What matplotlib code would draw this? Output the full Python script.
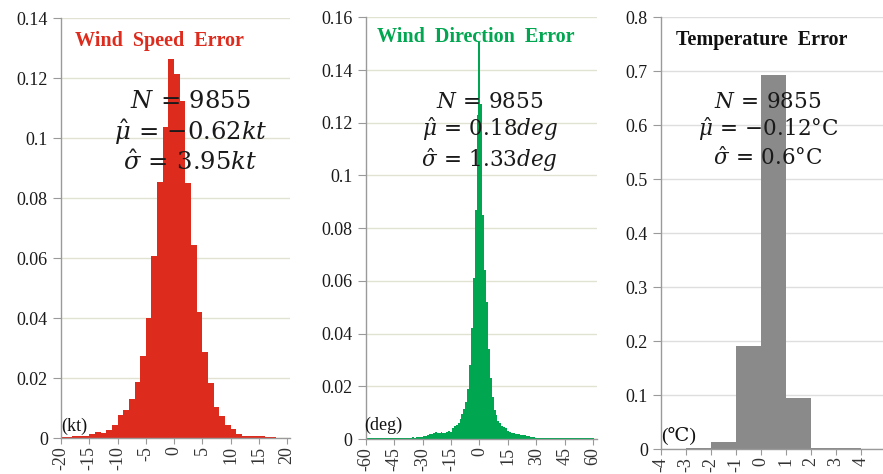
import numpy as np
import matplotlib
matplotlib.use("Agg")
import matplotlib.pyplot as plt

# wind speed error, 1 kt bins from -20 to 20
ws_edges = np.arange(-20, 21)
ws_freq = [0.0005, 0.0005, 0.0007, 0.0008, 0.0006, 0.0012, 0.0021, 0.0016, 0.0027, 0.0042,
           0.0077, 0.0092, 0.0131, 0.0187, 0.0273, 0.0401, 0.0606, 0.0852, 0.1038, 0.1263,
           0.1212, 0.1123, 0.0850, 0.0645, 0.0420, 0.0288, 0.0182, 0.0104, 0.0074, 0.0045,
           0.0030, 0.0015, 0.0008, 0.0007, 0.0007, 0.0006, 0.0005, 0.0004, 0.0001, 0.0000]

# wind direction error, 1 deg bins centred on -60..60
wd_edges = np.arange(-60.5, 61.5)
wd_freq = [0.0003, 0.0004, 0.0004, 0.0003, 0.0004, 0.0003, 0.0004, 0.0004, 0.0003, 0.0004,
           0.0004, 0.0003, 0.0004, 0.0003, 0.0004, 0.0004, 0.0003, 0.0004, 0.0004, 0.0005,
           0.0004, 0.0005, 0.0005, 0.0004, 0.0005, 0.0006, 0.0005, 0.0006, 0.0007, 0.0008,
           0.0008, 0.0010, 0.0012, 0.0016, 0.0020, 0.0018, 0.0022, 0.0025, 0.0021, 0.0024,
           0.0027, 0.0024, 0.0023, 0.0027, 0.0030, 0.0028, 0.0040, 0.0048, 0.0052, 0.0060,
           0.0075, 0.0095, 0.0115, 0.0140, 0.0190, 0.0280, 0.0420, 0.0610, 0.0870, 0.1230,
           0.1505,
           0.1270, 0.0850, 0.0640, 0.0520, 0.0340, 0.0230, 0.0160, 0.0110, 0.0090, 0.0068,
           0.0062, 0.0050, 0.0046, 0.0040, 0.0030, 0.0026, 0.0022, 0.0024, 0.0020, 0.0018,
           0.0019, 0.0016, 0.0017, 0.0014, 0.0012, 0.0010, 0.0009, 0.0007, 0.0006, 0.0005,
           0.0004, 0.0004, 0.0003, 0.0004, 0.0004, 0.0003, 0.0004, 0.0003, 0.0004, 0.0004,
           0.0003, 0.0004, 0.0003, 0.0004, 0.0004, 0.0003, 0.0004, 0.0003, 0.0004, 0.0004,
           0.0003, 0.0004, 0.0003, 0.0004, 0.0003, 0.0004, 0.0003, 0.0004, 0.0003, 0.0003]

# temperature error, 1 degC bins
t_edges = np.arange(-4, 6)
t_freq = [0.0003, 0.0012, 0.0135, 0.190, 0.692, 0.095, 0.0025, 0.0010, 0.0]

ws_xticks = [-20, -15, -10, -5, 0, 5, 10, 15, 20]
wd_xticks = [-60, -45, -30, -15, 0, 15, 30, 45, 60]
t_xticks = [-4, -3, -2, -1, 0, 1, 2, 3, 4]
ws_yticks = [0, 0.02, 0.04, 0.06, 0.08, 0.1, 0.12, 0.14]
wd_yticks = [0, 0.02, 0.04, 0.06, 0.08, 0.1, 0.12, 0.14, 0.16]
t_yticks = [0, 0.1, 0.2, 0.3, 0.4, 0.5, 0.6, 0.7, 0.8]

plt.rcParams['mathtext.fontset'] = 'dejavuserif'
serif = ['Liberation Serif', 'DejaVu Serif']

fig = plt.figure(figsize=(8.83, 4.74), dpi=100)
ax1 = fig.add_axes([0.0691, 0.0759, 0.2593, 0.8861])
ax2 = fig.add_axes([0.4141, 0.0738, 0.2620, 0.8897])
ax3 = fig.add_axes([0.7486, 0.0527, 0.2514, 0.9114])


def style(ax, xticks, yticks, xlim, ylim, grid_col):
    ax.set_xlim(*xlim)
    ax.set_ylim(*ylim)
    ax.set_xticks(xticks)
    ax.set_xticklabels([str(v) for v in xticks], rotation=90, fontfamily=serif,
                       fontsize=13, color='#333333')
    ax.set_yticks(yticks)
    ax.set_yticklabels(['%g' % v for v in yticks], fontfamily=serif,
                       fontsize=13, color='#1a1a1a')
    for s in ['top', 'right']:
        ax.spines[s].set_visible(False)
    for s in ['left', 'bottom']:
        ax.spines[s].set_color('#9a9a9a')
        ax.spines[s].set_linewidth(1.0)
    ax.tick_params(axis='x', direction='out', length=4, color='#9a9a9a', pad=2)
    ax.tick_params(axis='y', direction='out', length=5.5, color='#9a9a9a', pad=4)
    ax.grid(True, axis='y', color=grid_col, linewidth=1.0)
    ax.set_axisbelow(True)


ax1.stairs(ws_freq, ws_edges, fill=True, color='#dd2c1e')
style(ax1, ws_xticks, ws_yticks, (-20, 20.5), (0, 0.14), '#e2e2d2')
ax1.text(0.43, 0.945, 'Wind  Speed  Error', transform=ax1.transAxes, ha='center', va='center',
         fontfamily=serif, fontweight='bold', fontsize=14.5, color='#dd2c1e')
ax1.text(0.565, 0.729, '$N\\,=\\,9855$\n$\\hat{\\mu}\\,=\\,{-}0.62kt$\n$\\hat{\\sigma}\\,=\\,3.95kt$',
         transform=ax1.transAxes, ha='center', va='center', fontsize=17.5, color='#1a1a1a',
         linespacing=1.2)
ax1.text(0.0, 0.008, '(kt)', transform=ax1.transAxes, ha='left', va='bottom',
         fontfamily=serif, fontsize=13, color='#111111')

ax2.stairs(wd_freq, wd_edges, fill=True, color='#00a650')
style(ax2, wd_xticks, wd_yticks, (-60, 62), (0, 0.16), '#e2e2d2')
ax2.text(0.477, 0.953, 'Wind  Direction  Error', transform=ax2.transAxes, ha='center',
         va='center', fontfamily=serif, fontweight='bold', fontsize=14.5, color='#00a650')
ax2.text(0.537, 0.725, '$N\\,=\\,9855$\n$\\hat{\\mu}\\,=\\,0.18deg$\n$\\hat{\\sigma}\\,=\\,1.33deg$',
         transform=ax2.transAxes, ha='center', va='center', fontsize=15.5, color='#1a1a1a',
         linespacing=1.15)
ax2.text(-0.005, 0.012, '(deg)', transform=ax2.transAxes, ha='left', va='bottom',
         fontfamily=serif, fontsize=13, color='#111111')

ax3.stairs(t_freq, t_edges, fill=True, color='#8a8a8a')
style(ax3, t_xticks, t_yticks, (-4, 4.88), (0, 0.8), '#dedede')
ax3.text(0.455, 0.947, 'Temperature  Error', transform=ax3.transAxes, ha='center',
         va='center', fontfamily=serif, fontweight='bold', fontsize=14.5, color='#111111')
ax3.text(0.482, 0.737, '$N\\,=\\,9855$\n$\\hat{\\mu}\\,=\\,{-}0.12\\mathrm{°C}$\n$\\hat{\\sigma}\\,=\\,0.6\\mathrm{°C}$',
         transform=ax3.transAxes, ha='center', va='center', fontsize=15.5, color='#1a1a1a',
         linespacing=1.15)
ax3.text(0.0, 0.01, '(℃)', transform=ax3.transAxes, ha='left', va='bottom',
         fontfamily=serif, fontsize=14, color='#111111')

fig.savefig('out.png', dpi=100)
